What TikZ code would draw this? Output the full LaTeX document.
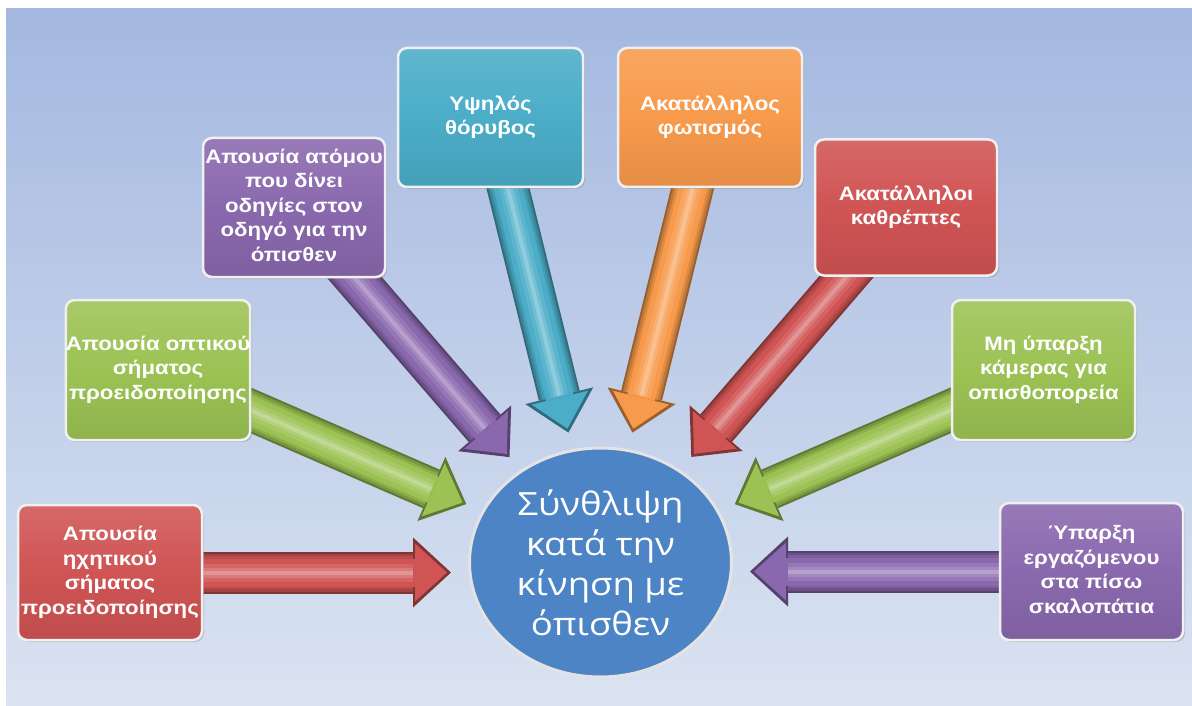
\documentclass[tikz,border=0pt]{standalone}
\usepackage{fontspec}
\setmainfont{Liberation Sans}
\newfontfamily\circfont{Open Sans}
\usepackage{graphicx}
\usetikzlibrary{arrows.meta,shapes.geometric,shadows}
\definecolor{bgtop}{HTML}{A4B8E0}
\definecolor{bgbot}{HTML}{DAE3F1}
\definecolor{redc}{HTML}{D05454}
\definecolor{greenc}{HTML}{9CC254}
\definecolor{purplec}{HTML}{8A68AE}
\definecolor{cyanc}{HTML}{4BADC8}
\definecolor{orangec}{HTML}{F79A4C}
\definecolor{circc}{HTML}{4C84C6}
\newcommand\stx[1]{\scalebox{1.14}[1]{\begin{tabular}{@{}c@{}}#1\end{tabular}}}
\pgfdeclarelayer{bglayer}
\pgfdeclarelayer{arrowlayer}
\pgfsetlayers{bglayer,arrowlayer,main}
\begin{document}
\begin{tikzpicture}[x=1pt,y=-1pt,
  box/.style={rectangle, rounded corners=9pt, inner sep=0pt,
    top color=#1!88!white, bottom color=#1!92!black, middle color=#1,
    draw=white!88!gray, line width=2.5pt, text=white,
    font=\bfseries\fontsize{19.5}{24.5}\selectfont,
    drop shadow={shadow xshift=2pt,shadow yshift=-2pt,opacity=0.35}},
  tube/.style={line width=42pt, draw=#1!62!black, shorten >=17pt,
    -{Triangle[length=38pt 0 0,width=70pt 0 0,line width=0pt]},
    postaction={draw=#1!78!black, line width=38pt, -, shorten >=55pt},
    postaction={draw=#1!90!black, line width=33pt, -, shorten >=55pt},
    postaction={draw=#1, line width=28pt, shorten >=21pt,
      -{Triangle[length=32pt 0 0,width=58pt 0 0,line width=0pt]}},
    postaction={draw=#1!90!white, line width=18pt, -, shorten >=55pt},
    postaction={draw=#1!78!white, line width=10pt, -, shorten >=55pt},
    postaction={draw=#1!62!white, line width=4pt, -, shorten >=55pt}},
  circtext/.style={text=white, inner sep=0pt,
    font=\circfont\fontsize{32}{40}\selectfont}
]
\useasboundingbox (0,0) rectangle (1192,706);
\begin{pgfonlayer}{bglayer}
  \fill[white] (0,0) rectangle (1192,706);
  \fill[top color=bgtop, bottom color=bgbot] (6,9) rectangle (1192,706);
\end{pgfonlayer}

\node[ellipse, minimum width=262pt, minimum height=229pt, inner sep=0pt,
  fill=circc, draw=white!78!gray, line width=3pt] (circ) at (600.5,562.5) {};
\node[circtext] (ctext) at (600.5,567) {\stx{Σύνθλιψη\\κατά την\\κίνηση με\\όπισθεν}};

\node[box=redc, minimum width=184pt, minimum height=135pt] (b1) at (110,572.5)
  {\stx{Απουσία\\ηχητικού\\σήματος\\προειδοποίησης}};
\node[box=greenc, minimum width=182pt, minimum height=140pt] (b2) at (158,370)
  {\stx{Απουσία οπτικού\\σήματος\\προειδοποίησης}};
\node[box=purplec, minimum width=182pt, minimum height=139pt] (b3) at (294,207.5)
  {\stx{Απουσία ατόμου\\που δίνει\\οδηγίες στον\\οδηγό για την\\όπισθεν}};
\node[box=cyanc, minimum width=185pt, minimum height=139pt] (b4) at (490.5,117.5)
  {\stx{Υψηλός\\θόρυβος}};
\node[box=orangec, minimum width=184pt, minimum height=139pt] (b5) at (710,117.5)
  {\stx{Ακατάλληλος\\φωτισμός}};
\node[box=redc, minimum width=182pt, minimum height=136pt] (b6) at (906,207.5)
  {\stx{Ακατάλληλοι\\καθρέπτες}};
\node[box=greenc, minimum width=183pt, minimum height=140pt] (b7) at (1043.5,370)
  {\stx{Μη ύπαρξη\\κάμερας για\\οπισθοπορεία}};
\node[box=purplec, minimum width=183pt, minimum height=137pt] (b8) at (1091.5,571.5)
  {\stx{Ύπαρξη\\εργαζόμενου\\στα πίσω\\σκαλοπάτια}};

\begin{pgfonlayer}{arrowlayer}
  \draw[tube=redc] (b1.center) -- (b1.center -| circ.west);
  \draw[tube=greenc] (b2.center) -- (circ);
  \draw[tube=purplec] (b3.center) -- (circ);
  \draw[tube=cyanc] (b4.center) -- (circ);
  \draw[tube=orangec] (b5.center) -- (circ);
  \draw[tube=redc] (b6.center) -- (circ);
  \draw[tube=greenc] (b7.center) -- (circ);
  \draw[tube=purplec] (b8.center) -- (b8.center -| circ.east);
\end{pgfonlayer}
\end{tikzpicture}
\end{document}
